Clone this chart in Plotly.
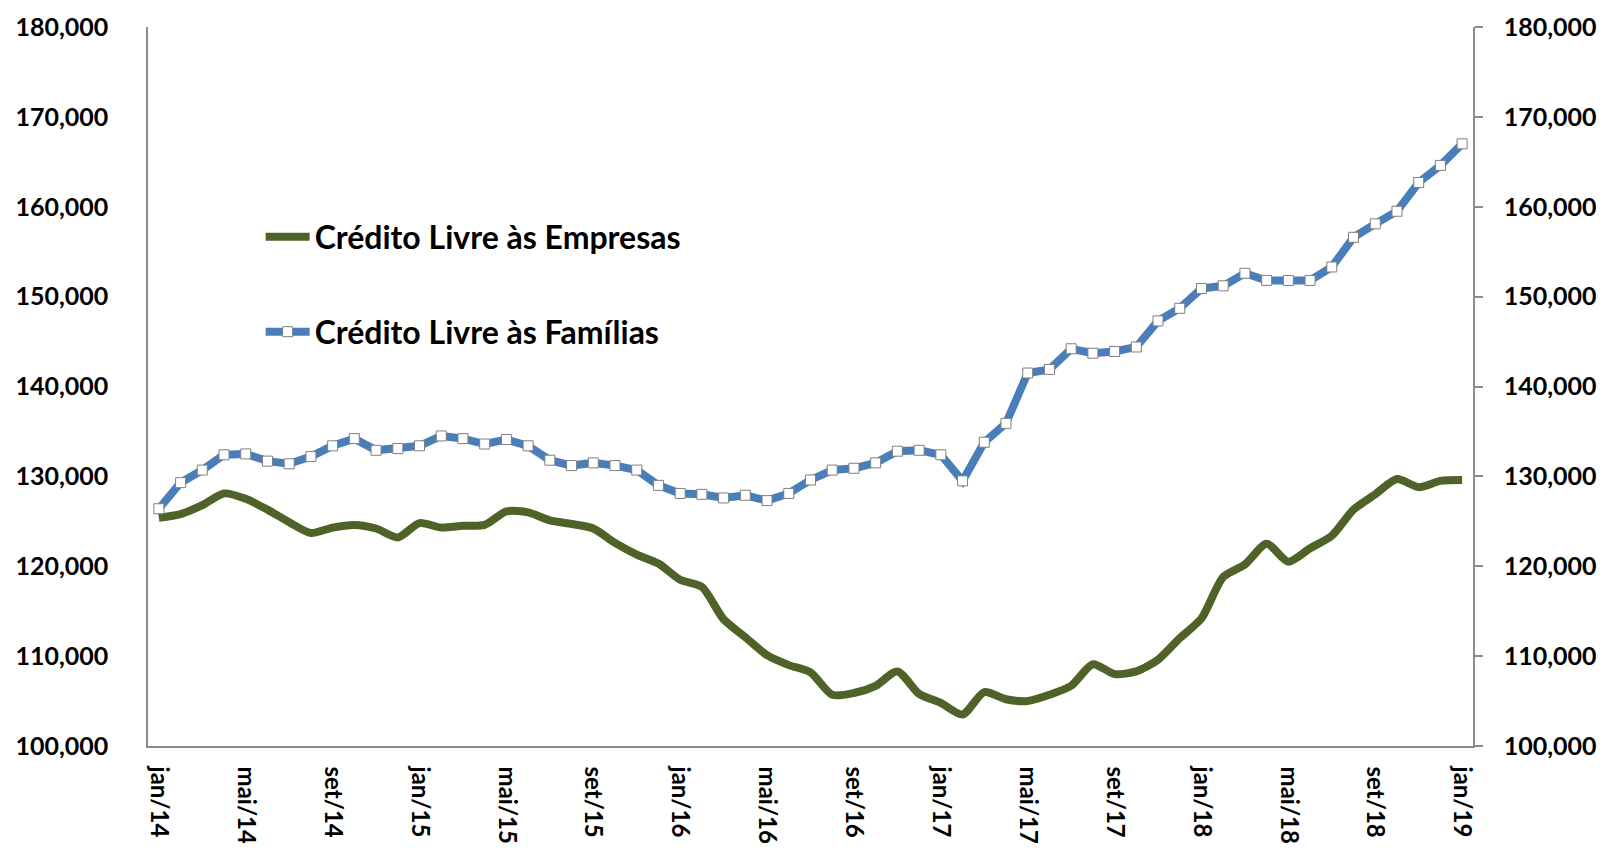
import plotly.graph_objects as go

# ---------------- data ----------------
months = ["jan", "fev", "mar", "abr", "mai", "jun", "jul", "ago", "set", "out", "nov", "dez"]
categories = [f"{m}/{y}" for y in range(14, 19) for m in months] + ["jan/19"]
tick_labels = categories[::4]

empresas = [
    125400, 125800, 126800, 128100, 127500, 126300, 124900, 123700, 124300, 124600,
    124200, 123200, 124800, 124300, 124500, 124600, 126100, 126000, 125100, 124700,
    124200, 122600, 121300, 120300, 118500, 117700, 114100, 112100, 110100, 109000,
    108200, 105700, 105900, 106700, 108300, 105800, 104800, 103500, 106000, 105200,
    105000, 105700, 106700, 109100, 108000, 108300, 109600, 112000, 114200, 118800,
    120200, 122500, 120500, 122000, 123400, 126300, 128000, 129700, 128800, 129500,
    129600,
]

familias = [
    126400, 129300, 130700, 132400, 132500, 131700, 131400, 132200, 133400, 134200,
    132900, 133100, 133400, 134500, 134200, 133600, 134100, 133400, 131800, 131200,
    131500, 131200, 130700, 129000, 128100, 128000, 127600, 127900, 127300, 128100,
    129600, 130700, 130900, 131500, 132800, 132900, 132400, 129500, 133800, 135900,
    141500, 141900, 144200, 143700, 143900, 144400, 147300, 148700, 150900, 151200,
    152600, 151800, 151800, 151800, 153300, 156600, 158100, 159500, 162700, 164600,
    167000,
]

series_names = ["Crédito Livre às Empresas", "Crédito Livre às Famílias"]

# ---------------- style ----------------
YFONT = dict(family="Lato", size=25, color="black", weight="bold")
XFONT = dict(family="Lato", size=24, color="black", weight="bold")
LEG_FONT = dict(family="Lato", size=32, color="black", weight="bold")
AXIS_COLOR = "#8C8C8C"
GREEN = "#4F6228"
BLUE = "#4A7EBB"

fig = go.Figure()
fig.add_trace(go.Scatter(
    x=categories, y=empresas, name=series_names[0], mode="lines",
    line=dict(color=GREEN, width=8, shape="spline", smoothing=0.7),
    legend="legend", yaxis="y", showlegend=True,
))
fig.add_trace(go.Scatter(
    x=categories, y=familias, name=series_names[1], mode="lines+markers",
    line=dict(color=BLUE, width=8),
    marker=dict(symbol="square", size=10, color="white", line=dict(color="#7F7F7F", width=1)),
    legend="legend2", yaxis="y2", showlegend=True,
))

yaxis_common = dict(
    range=[100000, 180000], dtick=10000, tickformat=",", showgrid=False, zeroline=False,
    showline=True, linecolor=AXIS_COLOR, linewidth=1.5, tickfont=YFONT, automargin=False,
)

fig.update_layout(
    width=1595, height=835,
    margin=dict(l=140, r=130, t=19, b=97),
    paper_bgcolor="white", plot_bgcolor="white",
    font=YFONT,
    showlegend=True,
    xaxis=dict(
        type="category", range=[-0.5, len(categories) - 0.5],
        tickmode="array", tickvals=tick_labels, ticktext=tick_labels,
        tickangle=90, showgrid=False, zeroline=False, showline=True,
        linecolor=AXIS_COLOR, linewidth=1.5, ticks="", tickfont=XFONT,
        ticklabelstandoff=14, automargin=False,
    ),
    yaxis=dict(**yaxis_common, ticks="", ticklabelstandoff=33),
    yaxis2=dict(**yaxis_common, overlaying="y", side="right", ticks="outside",
                ticklen=8, tickcolor=AXIS_COLOR, tickwidth=1.5, ticklabelstandoff=16),
    legend=dict(x=0.085, y=0.708, xanchor="left", yanchor="middle",
                bgcolor="rgba(0,0,0,0)", font=LEG_FONT, itemwidth=44),
    legend2=dict(x=0.085, y=0.576, xanchor="left", yanchor="middle",
                 bgcolor="rgba(0,0,0,0)", font=LEG_FONT, itemwidth=44),
)

fig.write_html("out.html")
